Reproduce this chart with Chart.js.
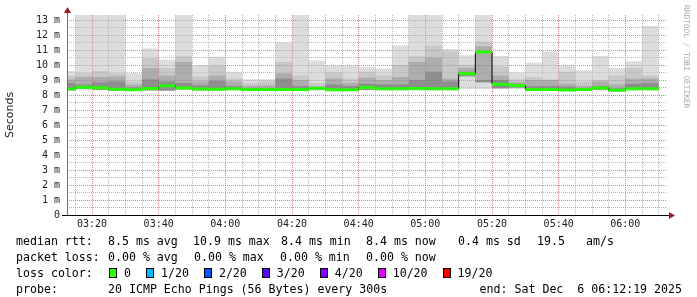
<!DOCTYPE html>
<html>
<head>
<meta charset="utf-8">
<script src="https://cdn.jsdelivr.net/npm/chart.js@4.4.0/dist/chart.umd.min.js"></script>
<style>
  body { margin: 0; background: #fff; }
  #wrap { position: relative; width: 697px; height: 297px; overflow: hidden; background: #fff; }
  #chart { position: absolute; left: 0; top: 0; }
  .lg { position: absolute; font: 11.6px "DejaVu Sans Mono", monospace; line-height: 14px; color: #000; white-space: pre; }
  .row { position: absolute; display: flex; align-items: center; font: 11.6px "DejaVu Sans Mono", monospace; line-height: 14px; white-space: pre; }
  .box { display: inline-block; width: 6px; height: 8px; border: 1px solid #000; margin-right: 7px; }
  .row span.t { margin-right: 15px; }
  #credit { position: absolute; left: 682px; top: 5px; writing-mode: vertical-rl; font: 7.8px "DejaVu Sans Mono", monospace; color: #a8a8a8; white-space: pre; }
</style>
</head>
<body>
<div id="wrap">
  <canvas id="chart" width="697" height="297"></canvas>

  <div class="lg" style="left:16px;top:234px">median rtt:</div>
  <div class="lg" style="left:108px;top:234px">8.5 ms avg</div>
  <div class="lg" style="left:193px;top:234px">10.9 ms max</div>
  <div class="lg" style="left:281px;top:234px">8.4 ms min</div>
  <div class="lg" style="left:366px;top:234px">8.4 ms now</div>
  <div class="lg" style="left:458px;top:234px">0.4 ms sd</div>
  <div class="lg" style="left:537px;top:234px">19.5</div>
  <div class="lg" style="left:586px;top:234px">am/s</div>

  <div class="lg" style="left:16px;top:250px">packet loss:</div>
  <div class="lg" style="left:108px;top:250px">0.00 % avg</div>
  <div class="lg" style="left:194px;top:250px">0.00 % max</div>
  <div class="lg" style="left:280px;top:250px">0.00 % min</div>
  <div class="lg" style="left:366px;top:250px">0.00 % now</div>

  <div class="lg" style="left:16px;top:266px">loss color:</div>
  <div class="row" id="lossRow" style="left:109px;top:266px"></div>

  <div class="lg" style="left:16px;top:282px">probe:</div>
  <div class="lg" style="left:108px;top:282px">20 ICMP Echo Pings (56 Bytes) every 300s</div>
  <div class="lg" style="right:15px;top:282px">end: Sat Dec  6 06:12:19 2025</div>

  <div id="credit">RRDTOOL / TOBI OETIKER</div>
</div>
<script>
// 5 minute slots (start time of each step)
const slotStart = ["03:10", "03:15", "03:20", "03:25", "03:30", "03:35", "03:40", "03:45", "03:50", "03:55",
  "04:00", "04:05", "04:10", "04:15", "04:20", "04:25", "04:30", "04:35", "04:40", "04:45",
  "04:50", "04:55", "05:00", "05:05", "05:10", "05:15", "05:20", "05:25", "05:30", "05:35",
  "05:40", "05:45", "05:50", "05:55", "06:00", "06:05"];

// smoke levels in ms, outermost to innermost
const rttMax = [9.6, 14, 14, 14, 9.45, 11.1, 10.35, 14, 10.0, 10.55, 9.55, 9.05, 9.05, 11.5, 14, 10.3, 9.95, 9.95,
  9.85, 9.75, 11.3, 14, 14, 11.05, 10.65, 14, 10.6, 9.5, 10.15, 10.9, 9.95, 9.65, 10.6, 9.8, 10.25, 12.6];
const rttUpper = [9.27, 9.45, 9.6, 9.45, 8.9, 10.45, 9.8, 10.6, 9.25, 9.95, 9.1, 8.78, 8.9, 10.2, 9.3, 8.8, 9.5, 9.1,
  9.55, 9.3, 10.0, 10.6, 11.3, 10.9, 10.0, 11.55, 9.9, 9.05, 9.2, 9.05, 9.55, 8.9, 9.0, 9.3, 9.8, 9.3];
const rttInner = [9.05, 9.2, 9.2, 9.25, 8.7, 9.8, 9.3, 10.2, 8.9, 9.3, 8.9, 8.6, 8.65, 9.45, 9.0, 8.6, 9.1, 8.8,
  9.15, 9.0, 9.2, 10.2, 10.5, 9.1, 9.8, 11.25, 9.3, 8.85, 9.0, 9.0, 8.75, 8.6, 8.9, 8.7, 9.1, 9.1];
const rttCore = [8.8, 8.7, 8.85, 8.9, 8.5, 9.05, 8.9, 8.8, 8.65, 8.95, 8.6, 8.45, 8.45, 9.1, 8.6, 8.5, 8.7, 8.6,
  8.75, 8.7, 8.7, 9.0, 9.55, 8.9, 9.55, 9.0, 9.0, 8.75, 8.6, 8.6, 8.55, 8.45, 8.6, 8.45, 8.75, 8.8];
const rttMedian = [8.40, 8.52, 8.48, 8.38, 8.35, 8.43, 8.62, 8.47, 8.40, 8.38, 8.42, 8.37, 8.37, 8.37, 8.37, 8.43, 8.35, 8.35,
  8.50, 8.42, 8.42, 8.44, 8.42, 8.42, 9.42, 10.86, 8.72, 8.63, 8.37, 8.37, 8.34, 8.37, 8.47, 8.32, 8.42, 8.42];
const rttLower = [8.32, 8.4, 8.35, 8.3, 8.3, 8.32, 8.3, 8.38, 8.32, 8.32, 8.33, 8.3, 8.3, 8.3, 8.3, 8.33, 8.3, 8.3,
  8.35, 8.33, 8.33, 8.35, 8.33, 8.33, 9.25, 8.85, 8.45, 8.5, 8.3, 8.3, 8.28, 8.3, 8.35, 8.27, 8.33, 8.33];
const rttMin = [8.28, 8.35, 8.32, 8.28, 8.28, 8.3, 8.27, 8.35, 8.3, 8.3, 8.3, 8.28, 8.28, 8.28, 8.28, 8.3, 8.27, 8.27,
  8.32, 8.3, 8.3, 8.3, 8.3, 8.3, 8.4, 8.4, 8.4, 8.4, 8.28, 8.28, 8.25, 8.28, 8.3, 8.25, 8.3, 8.3];

const lossLabels = ["0", "1/20", "2/20", "3/20", "4/20", "10/20", "19/20"];
const lossColors = ["#26ff00", "#00b8ff", "#0059ff", "#5e00ff", "#7e00ff", "#dd00ff", "#ff0000"];

const toMin = (s) => {
  const [h, m] = s.split(":").map(Number);
  return h * 60 + m;
};
const pad2 = (n) => String(n).padStart(2, "0");
const slotX = slotStart.map(toMin);
const STEP = 5;
const lastEnd = slotX[slotX.length - 1] + STEP;

// with stepped "before" the value of a point holds until the next point
function stepPoints(values) {
  const pts = values.map((v, i) => ({ x: slotX[i], y: v }));
  pts.push({ x: lastEnd, y: values[values.length - 1] });
  return pts;
}

// median as separate flat pieces (no vertical joins)
function pieces(values) {
  const pts = [];
  values.forEach((v, i) => {
    pts.push({ x: slotX[i], y: v }, { x: slotX[i] + STEP, y: v }, { x: slotX[i] + STEP, y: null });
  });
  return pts;
}

document.getElementById("lossRow").innerHTML = lossLabels
  .map((l, i) => `<span class="box" style="background:${lossColors[i]}"></span><span class="t">${l}</span>`)
  .join("");

const bands = [
  { hi: rttMax, lo: rttMin, color: "#dcdcdc", order: 10 },
  { hi: rttUpper, lo: rttLower, color: "#c8c8c8", order: 8 },
  { hi: rttInner, lo: rttLower, color: "#adadad", order: 6 },
  { hi: rttCore, lo: rttLower, color: "#8e8e8e", order: 4 },
];

const datasets = [];
bands.forEach((b) => {
  datasets.push({
    data: stepPoints(b.hi), stepped: "before", fill: "+1", backgroundColor: b.color,
    borderWidth: 0, borderColor: "transparent", pointRadius: 0, order: b.order,
  });
  datasets.push({
    data: stepPoints(b.lo), stepped: "before", fill: false,
    borderWidth: 0, borderColor: "transparent", pointRadius: 0, order: b.order,
  });
});
datasets.push({
  label: "median",
  data: stepPoints(rttMedian), stepped: "before", fill: false,
  borderColor: "#000", borderWidth: 1, pointRadius: 0, order: 1,
});
datasets.push({
  label: "median0",
  data: pieces(rttMedian), fill: false, spanGaps: false,
  borderColor: lossColors[0], borderWidth: 3, borderCapStyle: "butt", pointRadius: 0, order: 0,
});

// grid goes over the smoke like rrdtool does
const gridOnTop = {
  id: "gridOnTop",
  beforeDatasetDraw(chart, args) {
    if (chart.data.datasets[args.index].label !== "median") return;
    chart.scales.x.drawGrid(chart.chartArea);
    chart.scales.y.drawGrid(chart.chartArea);
  },
};

const axisArrows = {
  id: "axisArrows",
  afterDraw(chart) {
    const { ctx, chartArea: a } = chart;
    ctx.save();
    ctx.lineWidth = 1;
    ctx.strokeStyle = "#6e6e6e";
    ctx.beginPath();
    ctx.moveTo(a.left + 0.5, a.bottom);
    ctx.lineTo(a.left + 0.5, a.top - 3);
    ctx.stroke();
    ctx.strokeStyle = "#000";
    ctx.beginPath();
    ctx.moveTo(a.left - 5, a.bottom + 0.5);
    ctx.lineTo(a.right + 3, a.bottom + 0.5);
    ctx.stroke();
    ctx.fillStyle = "#9b1c1c";
    ctx.beginPath();
    ctx.moveTo(a.left + 0.5, a.top - 8);
    ctx.lineTo(a.left - 3, a.top - 2);
    ctx.lineTo(a.left + 4, a.top - 2);
    ctx.closePath();
    ctx.fill();
    ctx.beginPath();
    ctx.moveTo(a.right + 8, a.bottom + 0.5);
    ctx.lineTo(a.right + 2, a.bottom - 3);
    ctx.lineTo(a.right + 2, a.bottom + 4);
    ctx.closePath();
    ctx.fill();
    ctx.restore();
  },
};

const minorGrid = "rgba(140,140,140,0.38)";
const majorGrid = "rgba(220,60,60,0.42)";
const tickFont = { family: "DejaVu Sans Mono", size: 10 };

new Chart(document.getElementById("chart"), {
  type: "line",
  data: { datasets },
  options: {
    responsive: false,
    animation: false,
    devicePixelRatio: 1,
    layout: { padding: { left: 0, top: 15, right: 30, bottom: 60 } },
    plugins: { legend: { display: false }, tooltip: { enabled: false } },
    scales: {
      x: {
        type: "linear",
        min: toMin("03:12") + 0.5,
        max: toMin("06:12") + 0.5,
        afterBuildTicks: (scale) => {
          const ticks = [];
          for (let v = toMin("03:15"); v <= lastEnd; v += STEP) ticks.push({ value: v });
          scale.ticks = ticks;
        },
        afterFit: (scale) => { scale.height = 22; },
        ticks: {
          autoSkip: false,
          maxRotation: 0,
          padding: 3,
          color: "#222",
          font: tickFont,
          callback: (v) => (v % 20 === 0 ? `${pad2(Math.floor(v / 60))}:${pad2(v % 60)}` : ""),
        },
        grid: {
          drawTicks: false,
          color: (ctx) => (ctx.tick && ctx.tick.value % 20 === 0 ? majorGrid : minorGrid),
        },
        border: { display: false, dash: [1, 1] },
      },
      y: {
        min: 0,
        max: 40 / 3,
        afterBuildTicks: (scale) => {
          const ticks = [];
          for (let i = 0; i <= 26; i++) ticks.push({ value: i / 2 });
          scale.ticks = ticks;
        },
        afterFit: (scale) => { scale.width = 67; },
        title: {
          display: true,
          text: "Seconds",
          color: "#222",
          font: { family: "DejaVu Sans", size: 11 },
        },
        ticks: {
          autoSkip: false,
          padding: 7,
          color: "#222",
          font: tickFont,
          callback: (v) => (Number.isInteger(v) ? (v === 0 ? "0" : `${v} m`) : ""),
        },
        grid: {
          drawTicks: false,
          color: (ctx) => (ctx.tick && Number.isInteger(ctx.tick.value) ? majorGrid : minorGrid),
        },
        border: { display: false, dash: [1, 1] },
      },
    },
  },
  plugins: [gridOnTop, axisArrows],
});
</script>
</body>
</html>
